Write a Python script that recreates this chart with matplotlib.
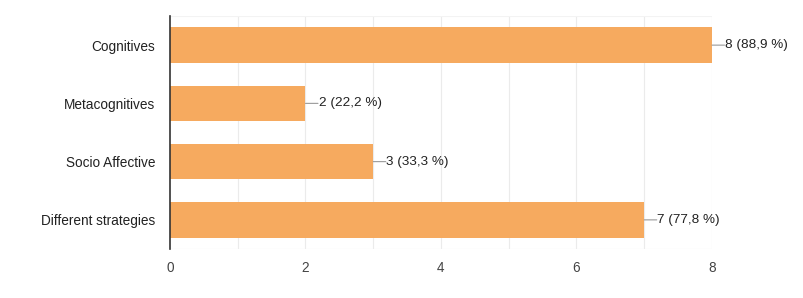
import matplotlib.pyplot as plt

plt.rcParams['font.family'] = ['Liberation Sans', 'DejaVu Sans']

# data
categories = ['Cognitives', 'Metacognitives', 'Socio Affective', 'Different strategies']
counts = [8, 2, 3, 7]
labels = ['8 (88,9 %)', '2 (22,2 %)', '3 (33,3 %)', '7 (77,8 %)']
xticks = [0, 2, 4, 6, 8]

bar_color = '#f6aa5f'
text_color = '#222222'

fig = plt.figure(figsize=(8.04, 2.98), dpi=100)
ax = fig.add_axes([170 / 804, 1 - 249 / 298, 542 / 804, 233 / 298])

y = list(range(len(categories)))
ax.barh(y, counts, height=0.61, color=bar_color, zorder=2)

ax.set_xlim(0, 8)
ax.set_ylim(len(categories) - 0.5, -0.5)
ax.set_yticks(y)
ax.set_yticklabels(categories, fontsize=9.8, color=text_color)
ax.set_xticks(xticks)
ax.set_xticklabels([str(t) for t in xticks], fontsize=9.8, color='#444444')
ax.tick_params(axis='y', length=0, pad=10.5)
ax.tick_params(axis='x', length=0, pad=8.5)

# light grid at every unit
for gx in range(1, 9):
    ax.axvline(gx, color='#ebebeb', lw=0.8, zorder=0)
ax.axhline(len(categories) - 0.5, color='#ebebeb', lw=0.8, zorder=0)
ax.axhline(-0.5, color='#f3f3f3', lw=0.8, zorder=0)

for s in ['top', 'right', 'bottom']:
    ax.spines[s].set_visible(False)
ax.spines['left'].set_color('#333333')
ax.spines['left'].set_linewidth(1.2)
ax.spines['left'].set_zorder(3)

# value labels with short leader lines
for yi, c, lab in zip(y, counts, labels):
    ax.annotate('', xy=(c, yi), xytext=(9, 0), textcoords='offset points',
                arrowprops=dict(arrowstyle='-', color='#999999', lw=0.8,
                                shrinkA=0, shrinkB=0), annotation_clip=False)
    ax.annotate(lab, xy=(c, yi), xytext=(9.5, 0), textcoords='offset points',
                va='center', ha='left', fontsize=9.7, color=text_color,
                annotation_clip=False)

fig.savefig('out.png', dpi=100)
